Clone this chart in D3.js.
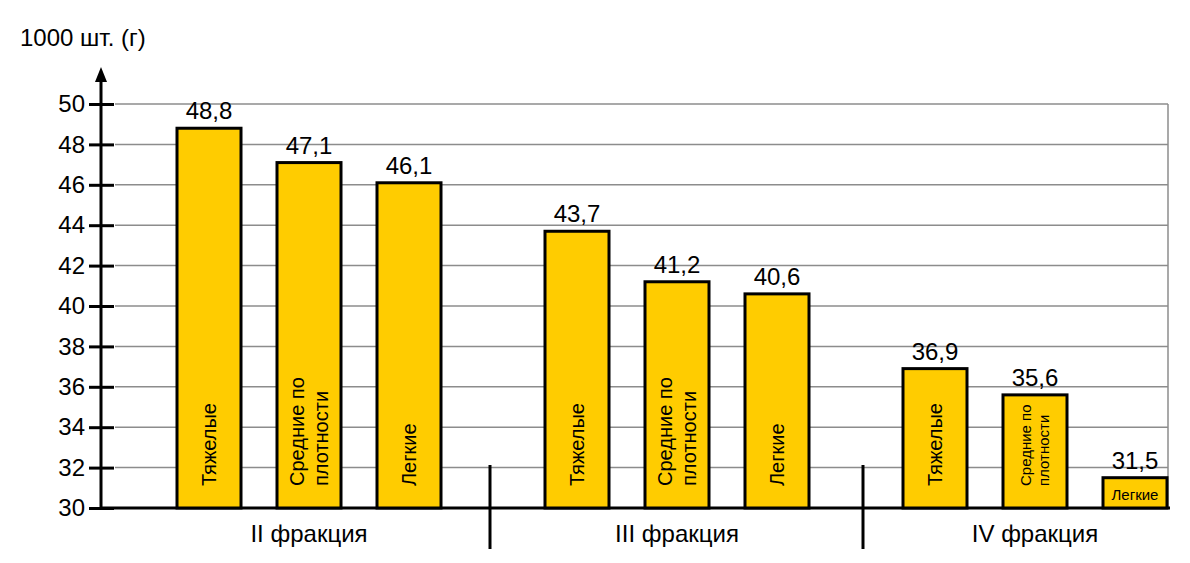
<!DOCTYPE html>
<html><head><meta charset="utf-8">
<script src="https://cdn.jsdelivr.net/npm/d3@7"></script>
<style>body{margin:0;background:#fff}text{font-family:Arial,"Liberation Sans",sans-serif}</style>
</head><body><svg id="c" width="1190" height="563"></svg>
<script>
const groups = ["II фракция","III фракция","IV фракция"];
const types = ["Тяжелые","Средние по плотности","Легкие"];
const values = [[48.8,47.1,46.1],[43.7,41.2,40.6],[36.9,35.6,31.5]];
const yTicks = [30,32,34,36,38,40,42,44,46,48,50];

const svg = d3.select("#c");
const y = d3.scaleLinear().domain([30,50]).range([508,104]);
const gx = d3.scaleBand().domain(groups).range([127,1177]).paddingInner(0.0);
const groupStarts = [177,545,903];
const bw = 64, step = 100;
const ax = 101;

// gridlines
svg.append("g").selectAll("line").data(yTicks.slice(1)).join("line")
 .attr("x1",115).attr("x2",1168).attr("y1",d=>y(d)).attr("y2",d=>y(d))
 .attr("stroke","#8c8c8c").attr("stroke-width",1.5);
svg.append("line").attr("x1",1168).attr("x2",1168).attr("y1",y(50)).attr("y2",y(30)).attr("stroke","#8c8c8c").attr("stroke-width",1.5);

// axis
const yAxis = d3.axisLeft(y).tickValues(yTicks).tickSize(0).tickPadding(16);
const ga = svg.append("g").attr("transform",`translate(${ax},0)`).call(yAxis);
ga.select(".domain").remove();
ga.selectAll("text").attr("font-size",24).attr("fill","#000");
ga.selectAll(".tick").append("line").attr("x1",-12).attr("x2",13).attr("stroke","#000").attr("stroke-width",3);
svg.append("line").attr("x1",ax).attr("x2",ax).attr("y1",y(30)).attr("y2",78).attr("stroke","#000").attr("stroke-width",3);
svg.append("path").attr("d",`M${ax-6},82 L${ax},67 L${ax+6},82 Z`).attr("fill","#000");
svg.append("line").attr("x1",ax).attr("x2",1170).attr("y1",y(30)).attr("y2",y(30)).attr("stroke","#000").attr("stroke-width",3);
svg.append("text").attr("x",20).attr("y",46).attr("font-size",24).text("1000 шт. (г)");

// separators
[490,863].forEach(x=>svg.append("line").attr("x1",x).attr("x2",x).attr("y1",465).attr("y2",549).attr("stroke","#000").attr("stroke-width",3));

groups.forEach((g,gi)=>{
  const cx = gi===0?309:gi===1?677:1035;
  svg.append("text").attr("x",cx).attr("y",542).attr("text-anchor","middle").attr("font-size",24).text(g);
  values[gi].forEach((v,i)=>{
    const x0 = groupStarts[gi]+i*step;
    svg.append("rect").attr("x",x0).attr("y",y(v)).attr("width",bw).attr("height",y(30)-y(v))
      .attr("fill","#ffcc00").attr("stroke","#000").attr("stroke-width",3);
    svg.append("text").attr("x",x0+bw/2).attr("y",y(v)-9).attr("text-anchor","middle").attr("font-size",24)
      .text(String(v).replace(".",","));
    const small = (gi===2);
    const cxb = x0+bw/2;
    if(gi===2 && i===2){
      svg.append("text").attr("x",cxb).attr("y",y(30)-8).attr("text-anchor","middle").attr("font-size",15).text(types[i]);
    } else if(i===1){
      const fs = small?15:20, off = small?9:12;
      const t = svg.append("text").attr("transform",`translate(${cxb},${y(30)-22}) rotate(-90)`).attr("font-size",fs);
      t.append("tspan").attr("x",0).attr("y",-off+fs*0.35).text("Средние по");
      t.append("tspan").attr("x",0).attr("y",off+fs*0.35).text("плотности");
    } else {
      svg.append("text").attr("transform",`translate(${cxb+7},${y(30)-22}) rotate(-90)`).attr("font-size",small?20:20).text(types[i]);
    }
  });
});
</script></body></html>
